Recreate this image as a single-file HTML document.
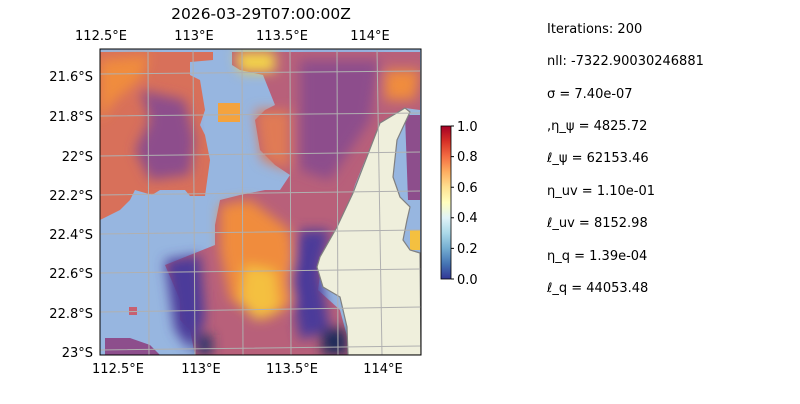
<!DOCTYPE html>
<html><head><meta charset="utf-8"><style>
body{margin:0;background:#fff;width:800px;height:400px;overflow:hidden;font-family:"DejaVu Sans",sans-serif}
</style></head><body>
<svg width="800" height="400" xmlns="http://www.w3.org/2000/svg" font-family="DejaVu Sans, sans-serif" font-size="13" fill="#000">
<defs>
<linearGradient id="cb" x1="0" y1="1" x2="0" y2="0">
<stop offset="0" stop-color="#313695"/><stop offset="0.1" stop-color="#4575b4"/><stop offset="0.2" stop-color="#74add1"/><stop offset="0.3" stop-color="#abd9e9"/><stop offset="0.4" stop-color="#e0f3f8"/><stop offset="0.5" stop-color="#ffffbf"/><stop offset="0.6" stop-color="#fee090"/><stop offset="0.7" stop-color="#fdae61"/><stop offset="0.8" stop-color="#f46d43"/><stop offset="0.9" stop-color="#d73027"/><stop offset="1" stop-color="#a50026"/>
</linearGradient>
<clipPath id="mp"><rect x="100" y="49" width="321" height="306"/></clipPath>
<filter id="bl"><feGaussianBlur stdDeviation="6"/></filter>
</defs>
<text x="261" y="19" text-anchor="middle" font-size="15.5">2026-03-29T07:00:00Z</text>
<g clip-path="url(#mp)">
<rect x="100" y="49" width="321" height="306" fill="#97b6e0"/>
<polygon fill="#d8705a" points="100,52 213,52 213,60 190,62 190,75 200,80 205,110 200,125 205,135 210,160 205,196 190,196 185,190 160,190 152,195 135,190 130,200 120,210 110,215 100,220"/>
<g filter="url(#bl)">
<polygon fill="#8d4e8c" points="140,90 185,100 195,140 190,175 150,180 135,150 150,120"/>
<polygon fill="#f08c3c" points="100,60 150,55 140,80 115,100 100,120"/>
</g>
<polygon fill="#b8607a" points="232,52 420,52 420,110 405,108 390,118 378,140 365,160 355,185 347,210 335,235 322,260 318,290 340,310 348,340 350,355 195,355 190,330 180,320 180,300 165,265 190,255 215,245 215,225 220,200 240,195 265,190 280,190 290,175 275,165 260,150 255,120 265,110 275,105 263,75 240,70 232,65"/>
<g filter="url(#bl)" clip-path="url(#mp)">
<polygon fill="#f4d64a" points="235,52 275,52 275,72 240,72"/>
<polygon fill="#e07a55" points="255,110 290,110 290,170 262,160"/>
<polygon fill="#f08c3c" points="220,205 250,200 290,230 300,300 265,320 230,300 220,250"/>
<polygon fill="#f4c040" points="245,265 275,270 280,310 255,320 240,300"/>
<polygon fill="#4b3a9a" points="300,230 330,230 320,270 330,330 300,340 290,280"/>
<polygon fill="#4b3a9a" points="165,260 200,255 205,320 190,350 175,330"/>
<polygon fill="#8d4e8c" points="300,60 380,60 370,120 330,180 300,170"/>
<polygon fill="#f08c3c" points="385,70 420,70 415,100 385,100"/>
<polygon fill="#1a2c5a" points="322,330 346,328 348,355 322,355"/>
<polygon fill="#24306a" points="198,335 212,335 212,355 198,355"/>
</g>
<rect x="218" y="103" width="22" height="19" fill="#f4a33e"/>
<rect x="129" y="307" width="8" height="8" fill="#c86070"/>
<polygon fill="#8d4e8c" points="105,338 130,338 150,345 160,355 105,355"/>
<polygon fill="#8d4e8c" points="405,115 420,115 420,200 408,200"/>
<polygon fill="#f4c040" points="410,230 420,230 420,250 410,250"/>
<polygon fill="#efefdc" stroke="#808080" stroke-width="1.2" points="405,108 410,112 397,140 393,177 400,197 410,207 407,220 403,240 410,250 420,253 421,355 348,355 347,327 340,297 323,287 317,267 320,257 337,227 353,193 363,167 380,123"/>
<g stroke="#b0b0b0" stroke-width="1" fill="none">
<path d="M100,74 L421,71 M100,116 L421,113 M100,156 L421,152 M100,195 L421,191 M100,234 L421,230 M100,273 L421,269 M100,312 L421,307 M100,350 L421,346"/>
<path d="M148,49 L149,355 M193,49 L195,355 M242,49 L243,355 M290,49 L291,355 M337,49 L338,355 M377,49 L382,355"/>
</g>
</g>
<rect x="100" y="49" width="321" height="306" fill="none" stroke="#000" stroke-width="1"/>
<g font-size="13">
<text x="101" y="40" text-anchor="middle">112.5°E</text>
<text x="194" y="40" text-anchor="middle">113°E</text>
<text x="282" y="40" text-anchor="middle">113.5°E</text>
<text x="370" y="40" text-anchor="middle">114°E</text>
<text x="118" y="373" text-anchor="middle">112.5°E</text>
<text x="201" y="373" text-anchor="middle">113°E</text>
<text x="292" y="373" text-anchor="middle">113.5°E</text>
<text x="383" y="373" text-anchor="middle">114°E</text>
<text x="93" y="81" text-anchor="end">21.6°S</text>
<text x="93" y="121" text-anchor="end">21.8°S</text>
<text x="93" y="161" text-anchor="end">22°S</text>
<text x="93" y="200" text-anchor="end">22.2°S</text>
<text x="93" y="239" text-anchor="end">22.4°S</text>
<text x="93" y="278" text-anchor="end">22.6°S</text>
<text x="93" y="318" text-anchor="end">22.8°S</text>
<text x="93" y="357" text-anchor="end">23°S</text>
</g>
<rect x="441" y="126" width="10" height="153" fill="url(#cb)" stroke="#000" stroke-width="0.8"/>
<g stroke="#000"><path d="M451,126h3M451,156.6h3M451,187.2h3M451,217.8h3M451,248.4h3M451,279h3"/></g>
<g font-size="13">
<text x="457" y="131">1.0</text><text x="457" y="161">0.8</text><text x="457" y="192">0.6</text><text x="457" y="222">0.4</text><text x="457" y="253">0.2</text><text x="457" y="284">0.0</text>
</g>
<g font-size="13">
<text x="547" y="33">Iterations: 200</text>
<text x="547" y="65">nll: -7322.90030246881</text>
<text x="547" y="98">σ = 7.40e-07</text>
<text x="547" y="130">,η_ψ = 4825.72</text>
<text x="547" y="162">ℓ_ψ = 62153.46</text>
<text x="547" y="195">η_uv = 1.10e-01</text>
<text x="547" y="227">ℓ_uv = 8152.98</text>
<text x="547" y="260">η_q = 1.39e-04</text>
<text x="547" y="292">ℓ_q = 44053.48</text>
</g>
</svg>
</body></html>
